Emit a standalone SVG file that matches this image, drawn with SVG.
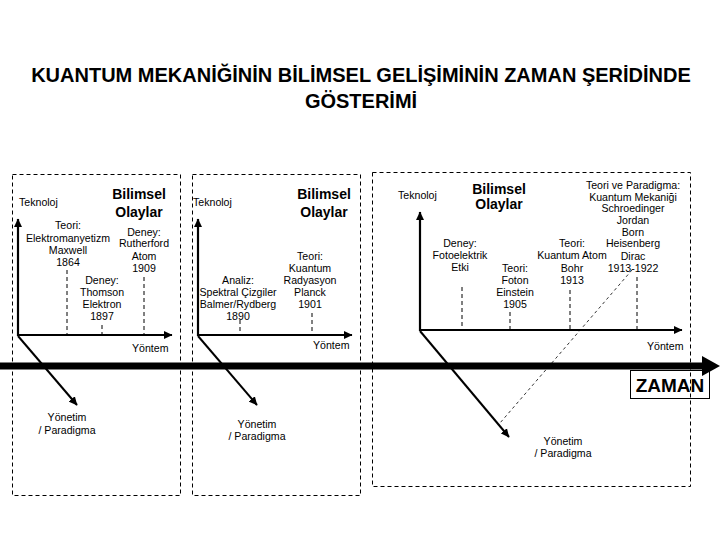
<svg xmlns="http://www.w3.org/2000/svg" width="720" height="540" viewBox="0 0 720 540">
<style>
text{font-family:"Liberation Sans",Arial,sans-serif;fill:#000}
.t{font-size:10.6px;text-anchor:middle}
.tl{font-size:10.6px}
.b{font-size:14px;font-weight:bold;text-anchor:middle}
.title{font-size:20px;font-weight:bold;text-anchor:middle}
.box{fill:none;stroke:#000;stroke-width:1;stroke-dasharray:4,3}
.tick{fill:none;stroke:#000;stroke-width:1;stroke-dasharray:4,3}
.axis{fill:none;stroke:#000;stroke-width:2.2}
.diag{fill:none;stroke:#000;stroke-width:2}
</style>
<defs>
<marker id="ah" markerUnits="userSpaceOnUse" markerWidth="9" markerHeight="9" refX="8" refY="4.5" orient="auto-start-reverse">
<path d="M0,0.5 L8.5,4.5 L0,8.5 z" fill="#000"/>
</marker>
</defs>
<rect width="720" height="540" fill="#fff"/>

<g id="title">
<text class="title" x="361" y="82">KUANTUM MEKANİĞİNİN BİLİMSEL GELİŞİMİNİN ZAMAN ŞERİDİNDE</text>
<text class="title" x="361" y="108">GÖSTERİMİ</text>
</g>

<g id="panel1">
<rect class="box" x="12.5" y="174.5" width="168" height="321"/>
<text class="tl" x="19" y="206">Teknoloj</text>
<text class="b" x="139" y="199">Bilimsel</text>
<text class="b" x="139" y="217">Olaylar</text>
<text class="t" x="68" y="229">Teori:</text>
<text class="t" x="68" y="242">Elektromanyetizm</text>
<text class="t" x="68" y="254">Maxwell</text>
<text class="t" x="68" y="266">1864</text>
<text class="t" x="144" y="236">Deney:</text>
<text class="t" x="144" y="247">Rutherford</text>
<text class="t" x="144" y="260">Atom</text>
<text class="t" x="144" y="272">1909</text>
<text class="t" x="102" y="284">Deney:</text>
<text class="t" x="102" y="296">Thomson</text>
<text class="t" x="102" y="308">Elektron</text>
<text class="t" x="102" y="320">1897</text>
<text class="tl" x="132" y="352">Yöntem</text>
<text class="t" x="67" y="421">Yönetim</text>
<text class="t" x="67" y="434">/ Paradigma</text>
</g>

<g id="panel2">
<rect class="box" x="192.5" y="174.5" width="168" height="321"/>
<text class="tl" x="193" y="206">Teknoloj</text>
<text class="b" x="324" y="199">Bilimsel</text>
<text class="b" x="324" y="217">Olaylar</text>
<text class="t" x="238" y="284">Analiz:</text>
<text class="t" x="238" y="296">Spektral Çizgiler</text>
<text class="t" x="238" y="308">Balmer/Rydberg</text>
<text class="t" x="238" y="320">1890</text>
<text class="t" x="310" y="260">Teori:</text>
<text class="t" x="310" y="272">Kuantum</text>
<text class="t" x="310" y="284">Radyasyon</text>
<text class="t" x="310" y="296">Planck</text>
<text class="t" x="310" y="308">1901</text>
<text class="tl" x="313" y="349">Yöntem</text>
<text class="t" x="257" y="428">Yönetim</text>
<text class="t" x="257" y="440">/ Paradigma</text>
</g>

<g id="panel3">
<rect class="box" x="372.5" y="172.5" width="318" height="314"/>
<text class="tl" x="398" y="199">Teknoloj</text>
<text class="b" x="499" y="194">Bilimsel</text>
<text class="b" x="499" y="209">Olaylar</text>
<text class="t" x="633" y="189">Teori ve Paradigma:</text>
<text class="t" x="633" y="201">Kuantum Mekaniği</text>
<text class="t" x="633" y="212">Schroedinger</text>
<text class="t" x="633" y="224">Jordan</text>
<text class="t" x="633" y="236">Born</text>
<text class="t" x="633" y="247">Heisenberg</text>
<text class="t" x="633" y="260">Dirac</text>
<text class="t" x="633" y="272">1913-1922</text>
<text class="t" x="460" y="247">Deney:</text>
<text class="t" x="460" y="259">Fotoelektrik</text>
<text class="t" x="460" y="271">Etki</text>
<text class="t" x="515" y="272">Teori:</text>
<text class="t" x="515" y="284">Foton</text>
<text class="t" x="515" y="296">Einstein</text>
<text class="t" x="515" y="308">1905</text>
<text class="t" x="572" y="247">Teori:</text>
<text class="t" x="572" y="259">Kuantum Atom</text>
<text class="t" x="572" y="272">Bohr</text>
<text class="t" x="572" y="284">1913</text>
<text class="tl" x="647" y="350">Yöntem</text>
<text class="t" x="563" y="445">Yönetim</text>
<text class="t" x="563" y="457">/ Paradigma</text>
</g>

<g id="zaman">
<rect x="630.5" y="370.5" width="79" height="28" fill="none" stroke="#000" stroke-width="1"/>
<text x="670" y="392" style="font-size:19px;font-weight:bold;text-anchor:middle">ZAMAN</text>
</g>

<g id="connectors">
<polyline class="axis" points="18,219 18,335 172,335" marker-start="url(#ah)" marker-end="url(#ah)"/>
<line class="tick" x1="67" y1="270" x2="67" y2="335"/>
<line class="tick" x1="102" y1="325" x2="102" y2="335"/>
<line class="tick" x1="144" y1="277" x2="144" y2="335"/>
<line class="diag" x1="18" y1="336" x2="77" y2="405" marker-end="url(#ah)"/>

<polyline class="axis" points="198,219 198,335 352,335" marker-start="url(#ah)" marker-end="url(#ah)"/>
<line class="tick" x1="240" y1="320" x2="240" y2="335"/>
<line class="tick" x1="312" y1="313" x2="312" y2="335"/>
<line class="diag" x1="198" y1="336" x2="257" y2="405" marker-end="url(#ah)"/>

<polyline class="axis" points="420,212 420,330 682,330" marker-start="url(#ah)" marker-end="url(#ah)"/>
<line class="tick" x1="462" y1="287" x2="462" y2="330"/>
<line class="tick" x1="510" y1="312" x2="510" y2="330"/>
<line class="tick" x1="570" y1="290" x2="570" y2="330"/>
<line class="tick" x1="637" y1="277" x2="637" y2="330"/>
<line class="diag" x1="420" y1="331" x2="509" y2="437" marker-end="url(#ah)"/>
<line x1="632" y1="270" x2="500" y2="423" stroke="#000" stroke-width="0.8" stroke-dasharray="3,3"/>

<line x1="0" y1="366" x2="704" y2="366" stroke="#000" stroke-width="7"/>
<polygon points="702,356 720,366 702,376" fill="#000"/>
</g>
</svg>
